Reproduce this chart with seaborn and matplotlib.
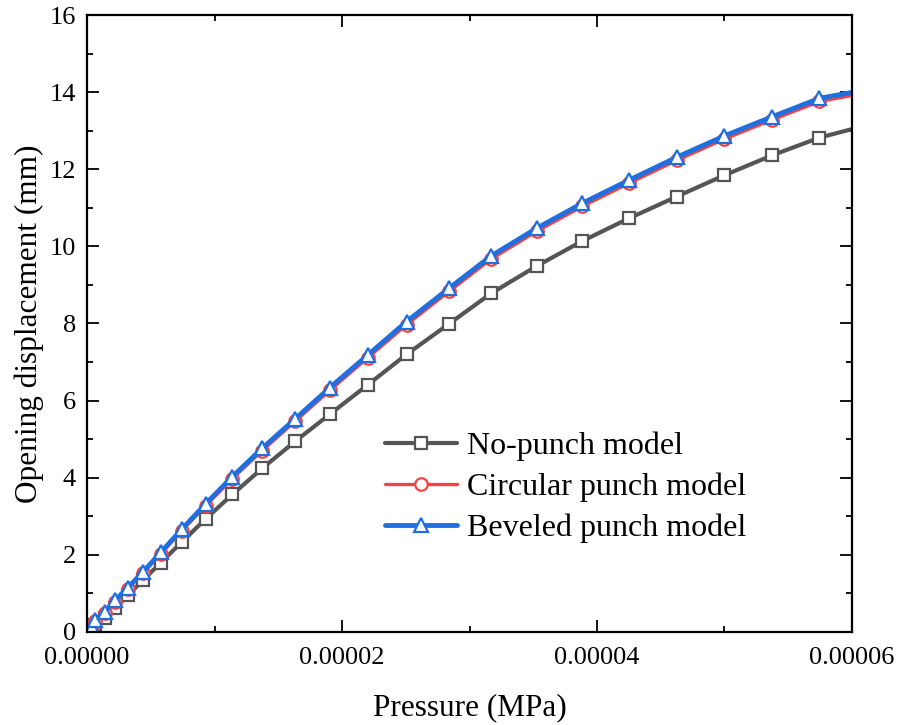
import matplotlib
matplotlib.use("Agg")
import matplotlib.pyplot as plt
from matplotlib.ticker import MultipleLocator, FuncFormatter
import numpy as np
import pandas as pd
import seaborn as sns

# pressure in MPa
pressure = np.array([0, 0.040, 0.063, 0.141, 0.220, 0.320, 0.440, 0.580, 0.745, 0.933,
                     1.141, 1.373, 1.631, 1.906, 2.202, 2.507, 2.839, 3.169, 3.527, 3.886,
                     4.253, 4.625, 4.996, 5.373, 5.745, 6.114]) * 1e-5

no_punch = [0, 0.05, 0.18, 0.36, 0.62, 0.95, 1.35, 1.80, 2.34, 2.94,
            3.57, 4.24, 4.94, 5.65, 6.41, 7.20, 7.99, 8.78, 9.49, 10.14,
            10.73, 11.29, 11.84, 12.36, 12.82, 13.14]
circular = [0, 0.12, 0.29, 0.49, 0.79, 1.12, 1.53, 2.03, 2.63, 3.28,
            3.98, 4.70, 5.46, 6.27, 7.11, 7.97, 8.83, 9.67, 10.39, 11.04,
            11.64, 12.23, 12.78, 13.28, 13.76, 13.98]
beveled = [0, 0.14, 0.31, 0.52, 0.82, 1.15, 1.56, 2.07, 2.67, 3.33,
           4.03, 4.76, 5.52, 6.34, 7.18, 8.05, 8.91, 9.75, 10.47, 11.12,
           11.72, 12.31, 12.86, 13.36, 13.84, 14.06]

labels = ["No-punch model", "Circular punch model", "Beveled punch model"]
colors = ["#555555", "#f54242", "#1f6fe0"]

sns.set_style("ticks")
plt.rcParams["font.family"] = ["Liberation Serif", "DejaVu Serif"]
plt.rcParams["text.color"] = "black"
plt.rcParams["axes.labelcolor"] = "black"
plt.rcParams["xtick.color"] = "black"
plt.rcParams["ytick.color"] = "black"

fig = plt.figure(figsize=(8.99, 7.25), dpi=100)
ax = fig.add_axes([0.0968, 0.1283, 0.8509, 0.8510])

series = [
    (no_punch, labels[0], colors[0], "s", 3.0, 8.5),
    (circular, labels[1], colors[1], "o", 2.4, 9.0),
    (beveled, labels[2], colors[2], "^", 3.5, 10.5),
]
for vals, lab, col, mk, lw, ms in series:
    df = pd.DataFrame({"p": pressure, "d": vals})
    sns.lineplot(data=df, x="p", y="d", ax=ax, color=col, label=lab,
                 marker=mk, markersize=ms, markerfacecolor="white",
                 markeredgecolor=col, markeredgewidth=1.6, linewidth=lw,
                 estimator=None, sort=False)

ax.set_xlim(0, 6e-5)
ax.set_ylim(0, 16)
ax.xaxis.set_major_locator(MultipleLocator(2e-5))
ax.xaxis.set_minor_locator(MultipleLocator(1e-5))
ax.yaxis.set_major_locator(MultipleLocator(2))
ax.yaxis.set_minor_locator(MultipleLocator(1))
ax.xaxis.set_major_formatter(FuncFormatter(lambda v, pos: f"{v:.5f}"))
ax.yaxis.set_major_formatter(FuncFormatter(lambda v, pos: f"{v:.0f}"))

ax.tick_params(which="both", direction="in", top=True, right=True, width=1.3,
               labelsize=19)
ax.tick_params(which="major", length=8.5)
ax.tick_params(axis="x", which="major", pad=11)
ax.tick_params(axis="y", which="major", pad=8)
ax.tick_params(which="minor", length=4)
for s in ax.spines.values():
    s.set_linewidth(1.6)
    s.set_color("black")

ax.set_xlabel("Pressure (MPa)", fontsize=22.5, labelpad=17)
ax.set_ylabel("Opening displacement (mm)", fontsize=22.5, labelpad=4)

leg = ax.legend(loc="lower left", bbox_to_anchor=(0.373, 0.123), frameon=False,
                fontsize=23, handlelength=2.25, handletextpad=0.3, labelspacing=0.36,
                borderaxespad=0)

fig.savefig("out.png", dpi=100)
